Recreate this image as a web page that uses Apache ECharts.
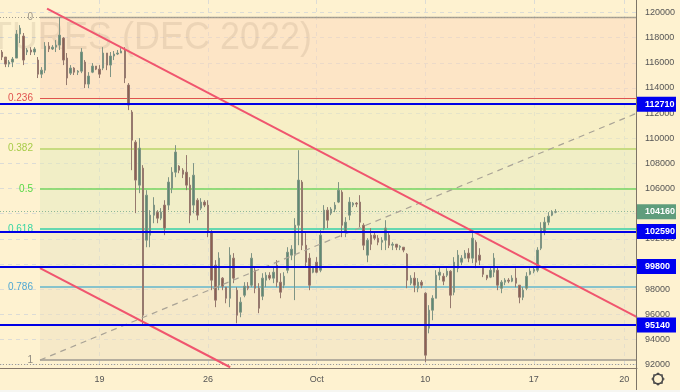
<!DOCTYPE html>
<html>
<head>
<meta charset="utf-8">
<script src="https://cdn.jsdelivr.net/npm/echarts@6/dist/echarts.min.js"></script>
<style>
  html, body { margin: 0; padding: 0; background: #fef2d0; }
  #chart { width: 680px; height: 392px; }
</style>
</head>
<body>
<div id="chart"></div>
<script>
// [open, close, low, high], 4h bars
const candles = [
  [116860,116460,116220,117020],[116460,115900,115660,116220],[115900,116060,115660,116220],[116060,116300,115660,116460],
  [116380,118290,116380,118610],[118290,118760,117570,119000],[118130,116220,115820,118370],[116860,117020,116620,117170],
  [117020,116860,116620,117250],[116860,117100,116620,117250],[116220,115100,114790,116460],[115100,115420,114790,115660],
  [115420,117330,115180,117650],[117330,117100,116860,117650],[117100,117250,117020,117410],[117250,117410,116860,117810],
  [117410,118210,117020,119640],[117970,116220,115820,118050],[116380,114790,114230,116780],[115180,115580,115030,115820],
  [115580,115260,115030,115660],[115260,115340,115030,115420],[115340,116860,115180,117170],[116060,114310,113990,116220],
  [114310,114950,113990,115260],[115260,115740,115180,115980],[115740,115500,115420,115740],[115500,115100,114790,115820],
  [115580,116780,115420,117250],[116780,115820,115420,116780],[115820,116540,114870,116860],[116540,116700,116220,116940],
  [116700,116780,116620,117020],[116780,116940,116780,117170],[117020,114790,114390,117250],[114230,112640,112240,114390],
  [112080,109850,107460,112240],[109690,106670,104040,109850],[106270,109210,105630,110010],[107620,95920,95200,107860],
  [101890,105470,101330,105870],[102290,103880,101330,104280],[103880,104680,103240,105310],[104120,103640,103240,104280],
  [103640,104120,103480,104440],[104680,102850,102290,105070],[104680,106510,104280,106900],[106030,107300,105630,107700],
  [107300,108900,106900,109450],[107780,107460,107220,107860],[107460,107140,106830,107620],[107300,106270,105870,108660],
  [106270,103880,103240,106900],[104680,107060,104040,108020],[105070,103880,103480,105230],[104440,104920,104280,105230],
  [104920,104680,104520,105070],[104680,102530,102130,105070],[102530,98710,97910,102690],[99900,97120,96560,100300],
  [98310,100460,97910,100930],[98870,98230,97910,98950],[98150,97270,96870,98150],[97270,100700,96560,101330],
  [100460,98870,98470,100860],[97910,95920,95280,98150],[96160,96960,95760,97350],[97510,98230,97350,98550],
  [98230,98070,97910,98550],[98310,100460,98150,100860],[99500,98070,97670,99740],[98070,96480,96080,98470],
  [97430,98870,97120,99260],[98710,99100,98150,99340],[99100,98870,98710,99340],[98870,99340,98470,99740],
  [99900,98550,98150,100300],[98550,97750,97270,99260],[98310,99020,98070,99340],[99500,100930,99260,101330],
  [100700,101170,100300,101490],[100700,103080,97120,103640],[103080,106670,101490,109050],[106510,101490,101100,106670],
  [101490,100140,99740,102450],[100460,98310,97910,100860],[99340,99660,99260,99740],[100140,99340,99260,100540],
  [99500,102290,99340,102690],[102850,104280,102690,104680],[104280,103480,102850,104520],[104040,104360,103880,104520],
  [104360,104680,104120,104920],[104920,105870,104840,106510],[105710,103080,102130,105870],[102530,103320,102130,103720],
  [103880,104920,103480,105310],[104680,104840,104520,104920],[104840,104760,104520,104920],[104920,103320,102930,105470],
  [103080,101490,101100,103240],[100700,101890,100140,102050],[102290,101570,101100,102850],[102290,102050,101890,102530],
  [102050,101730,101490,102290],[101730,101890,101100,102130],[101890,102850,101100,103480],[102290,101490,101260,102450],
  [101490,101570,101100,101730],[101570,101330,101100,101490],[101330,101410,101100,101490],[101330,101100,100930,101330],
  [100780,98710,98070,100860],[98470,98870,98310,99100],[98870,98310,97750,99340],[98070,98550,97750,98870],
  [98550,98310,98070,98710],[97670,92740,92180,97750],[94890,96320,94480,96720],[96320,97270,95520,97510],
  [97270,99100,97270,99500],[99100,99340,98710,99740],[99020,98630,98310,99260],[99100,99420,98950,99660],
  [99420,97510,96480,99500],[97750,100140,97510,100540],[99660,100700,99340,101100],[100140,100460,99900,100700],
  [100460,100860,100460,101100],[100860,100460,100140,101250],[100460,102050,100060,102690],[101730,100140,99660,101890],
  [100700,100300,99900,101250],[99660,99180,98950,99740],[99100,98870,98710,99100],[98950,99500,98870,99740],
  [99340,100460,98950,100860],[99500,98310,97910,99740],[98070,98550,97670,98710],[98550,98710,98310,98870],
  [98710,98630,98470,98870],[98630,98870,98550,99100],[98870,98470,98150,99660],[98310,97350,96870,98310],
  [97350,97910,97120,98150],[98070,99020,97910,99340],[99180,99420,99100,99660],[99420,99580,99260,99820],
  [99500,101100,99340,101330],[101250,102850,101100,103320],[102530,103320,102290,103720],[103320,103800,103080,104120],
  [103880,104120,103800,104280],[104120,104160,104040,104360]
];
const barCount = 176;
const tickIndex = [27, 57, 87, 117, 147, 172];
const tickLabels = ['19', '26', 'Oct', '10', '17', '20'];
const priceTicks = [92000,94000,96000,98000,100000,102000,104000,106000,108000,110000,112000,114000,116000,118000,120000];

const fibNames = ['0', '0.236', '0.382', '0.5', '0.618', '0.786', '1'];
const fibPrices = [119600, 113170, 109190, 105975, 102760, 98180, 92350];
const fibColors = ['#a8a294', '#e0524f', '#b9d468', '#74d560', '#35d0a8', '#62b6cc', '#b5ae9f'];
const fibTextColors = ['#9c968a', '#e0524f', '#a8cc48', '#55d845', '#38d6a4', '#4fa8d4', '#8f8a80'];
// laid over the cream background at half strength so the grid still shows through
const fibBands = ['#fcd8bc', '#f0ecbc', '#e4eabc', '#e4eac0', '#e8e4c4', '#eee0c0'];

const zonePrices = [112710, 102590, 99800, 95140];
const lastPrice = 104160;
const dotLevels = [119600, 92050];

// trend lines, [bar position, price]
const upperTrend = [[13, 120320], [176, 95760]];
const lowerTrend = [[11.05, 99660], [63.6, 91780]];
const fibDiagonal = [[11.05, 92350], [176, 112000]];

const categories = [];
for (let i = 0; i < barCount; i++) {
  const at = tickIndex.indexOf(i);
  categories.push(at >= 0 ? tickLabels[at] : '');
}
const hasLabel = (index) => tickIndex.indexOf(index) >= 0;

const font = '"Liberation Sans", sans-serif';

const chart = echarts.init(document.getElementById('chart'), null, { renderer: 'canvas' });

function overlay(name, extra) {
  return Object.assign({
    name: name, type: 'line', xAxisIndex: 1, yAxisIndex: 0,
    symbol: 'none', silent: true, animation: false, data: []
  }, extra);
}

function trend(data, color, width, type, z) {
  return overlay('trend', {
    data: data, z: z,
    lineStyle: { color: color, width: width, type: type }
  });
}

function priceTag(price, color) {
  return {
    show: true, formatter: String(price), position: 'end', distance: 0,
    color: '#fff', fontSize: 9, fontWeight: 'bold', fontFamily: font,
    backgroundColor: color, padding: [3, 3, 2, 8], width: 28, lineHeight: 10, align: 'left'
  };
}

chart.setOption({
  animation: false,
  backgroundColor: '#fef2d0',
  graphic: [
    {
      type: 'text', x: 312, y: 19, scaleY: 1.08, z: 1, silent: true,
      style: {
        text: 'FUTURES (DEC 2022)', align: 'right', verticalAlign: 'top',
        font: '36px "Liberation Sans", sans-serif', fill: 'rgba(90,70,50,0.10)'
      }
    },
    { type: 'line', z: 9, silent: true, shape: { x1: 636.5, y1: 0, x2: 636.5, y2: 390 }, style: { stroke: '#7d7568', lineWidth: 1 } },
    { type: 'rect', z: 9, silent: true, shape: { x: 0, y: 390, width: 680, height: 2 }, style: { fill: '#f6f6f2' } },
    { type: 'circle', z: 9, silent: true, shape: { cx: 658, cy: 379, r: 4.6 }, style: { fill: 'none', stroke: '#4a4a4a', lineWidth: 1.3 } },
    {
      type: 'polyline', z: 9, silent: true,
      shape: { points: [[658,373],[660,374.6],[662.2,374.8],[662.4,377],[664,379],[662.4,381],[662.2,383.2],[660,383.4],[658,385],[656,383.4],[653.8,383.2],[653.6,381],[652,379],[653.6,377],[653.8,374.8],[656,374.6],[658,373]] },
      style: { fill: 'none', stroke: '#4a4a4a', lineWidth: 1.1 }
    }
  ],
  grid: { left: 0, top: 0, right: 43, bottom: 24, containLabel: false, outerBoundsMode: 'none' },
  xAxis: [
    {
      type: 'category', data: categories, boundaryGap: true,
      axisLine: { show: true, lineStyle: { color: '#85776a', width: 1 } },
      axisTick: { show: false },
      axisLabel: { interval: (index) => hasLabel(index), color: '#555', fontSize: 9, fontFamily: font, margin: 7 },
      splitLine: { show: true, interval: (index) => hasLabel(index), alignWithLabel: true, lineStyle: { color: '#dcdcd6', type: [4, 4], width: 1 } }
    },
    { type: 'value', min: 0, max: barCount, show: false }
  ],
  yAxis: {
    type: 'value', position: 'right', min: 91720, max: 121000, scale: true,
    axisLine: { show: false },
    axisTick: { show: false, customValues: priceTicks },
    axisLabel: { customValues: priceTicks, color: '#555', fontSize: 9, fontFamily: font, margin: 8, formatter: (v) => String(v) },
    splitLine: { show: true, lineStyle: { color: '#dcdcd6', type: [4, 4], width: 1 } }
  },
  series: [
    overlay('bands', {
      z: 0,
      markArea: {
        silent: true, z: 0,
        data: fibBands.map((color, i) => [
          { coord: [11.05, fibPrices[i]], itemStyle: { color: color, opacity: 0.5 } },
          { coord: [barCount, fibPrices[i + 1]] }
        ])
      }
    }),
    overlay('fib', {
      z: 1,
      markLine: {
        silent: true, symbol: 'none', z: 1, animation: false,
        data: fibPrices.map((price, i) => [
          {
            coord: [11.05, price],
            lineStyle: { color: fibColors[i], width: i == 0 ? 1.4 : i == 6 ? 2 : i == 1 ? 1.2 : 1.5, type: 'solid' },
            label: { show: true, formatter: fibNames[i], position: 'start', distance: 7, color: fibTextColors[i], fontSize: 10, fontFamily: font }
          },
          { coord: [barCount, price] }
        ])
      }
    }),
    {
      name: 'price', type: 'candlestick', z: 3, xAxisIndex: 0, yAxisIndex: 0,
      data: candles, barWidth: 2, animation: false, clip: true,
      itemStyle: {
        color: '#5f8a72', color0: '#8d5f52',
        borderColor: '#7f9484', borderColor0: '#96796e', borderWidth: 1
      }
    },
    overlay('dots', {
      z: 2,
      markLine: {
        silent: true, symbol: 'none', z: 2, animation: false, label: { show: false },
        data: dotLevels.map((price) => [
          { coord: [0, price], lineStyle: { color: '#a09a8c', width: 1, type: [1, 2] } },
          { coord: [barCount, price] }
        ]).concat([[
          { coord: [0, lastPrice], lineStyle: { color: '#8fb898', width: 1, type: [1, 2] } },
          { coord: [barCount, lastPrice] }
        ]])
      }
    }),
    trend(fibDiagonal, '#a9a396', 1.2, [6, 5], 4),
    trend(upperTrend, '#f0556e', 2, 'solid', 5),
    trend(lowerTrend, '#f0556e', 2, 'solid', 5),
    overlay('zones', {
      z: 6,
      markLine: {
        silent: true, symbol: 'none', z: 6, animation: false,
        data: zonePrices.map((price) => [
          {
            coord: [0, price],
            lineStyle: { color: '#0000e6', width: 2, type: 'solid' },
            label: priceTag(price, '#0000f0')
          },
          { coord: [barCount, price] }
        ]).concat([[
          {
            coord: [barCount - 0.01, lastPrice],
            lineStyle: { width: 0 },
            label: priceTag(lastPrice, '#5f9d7c')
          },
          { coord: [barCount, lastPrice] }
        ]])
      }
    })
  ]
});
</script>
</body>
</html>
